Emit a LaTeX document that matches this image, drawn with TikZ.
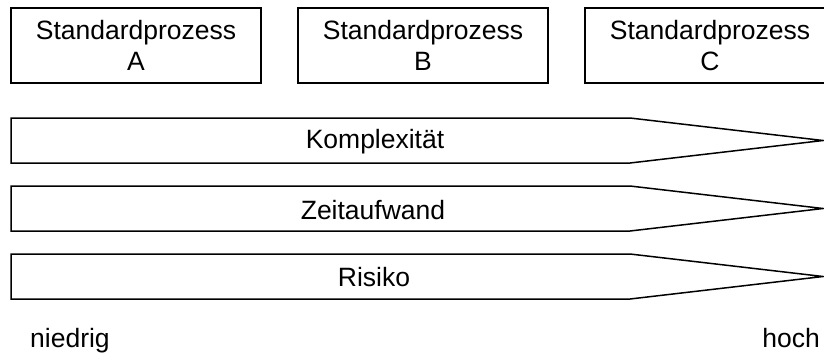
\documentclass[tikz,border=0pt]{standalone}
\usepackage{fontspec}
\setmainfont{Liberation Sans}
\begin{document}
\begin{tikzpicture}[x=1pt,y=-1pt,
  box/.style={draw, line width=1.5pt, minimum width=250pt, minimum height=75pt, align=center, inner sep=0pt, font=\fontsize{26.5}{31}\selectfont},
  bar/.style={draw, line width=1.5pt, line join=miter},
  lbl/.style={font=\fontsize{26.5}{31}\selectfont, inner sep=0pt}]
\useasboundingbox (0,0) rectangle (824,354);
\clip (0,0) rectangle (824,354);
\node[box] (pa) at (136,45.5) {Standardprozess\\A};
\node[box] (pb) at (423,45.5) {Standardprozess\\B};
\node[box] (pc) at (710,45.5) {Standardprozess\\C};
\draw[bar] (11,118) -- (630,118) -- (823,140.5) -- (630,163) -- (11,163) -- cycle;
\node[lbl] (k) at (375,142) {Komplexität};
\draw[bar] (11,186) -- (630,186) -- (823,208.5) -- (630,231) -- (11,231) -- cycle;
\node[lbl] (z) at (373,210) {Zeitaufwand};
\draw[bar] (11,254) -- (630,254) -- (823,276.5) -- (630,299) -- (11,299) -- cycle;
\node[lbl] (r) at (374,277) {Risiko};
\node[lbl, anchor=base west] (lo) at (30,347) {niedrig};
\node[lbl, anchor=base east] (hi) at (820,347) {hoch};
\end{tikzpicture}
\end{document}
